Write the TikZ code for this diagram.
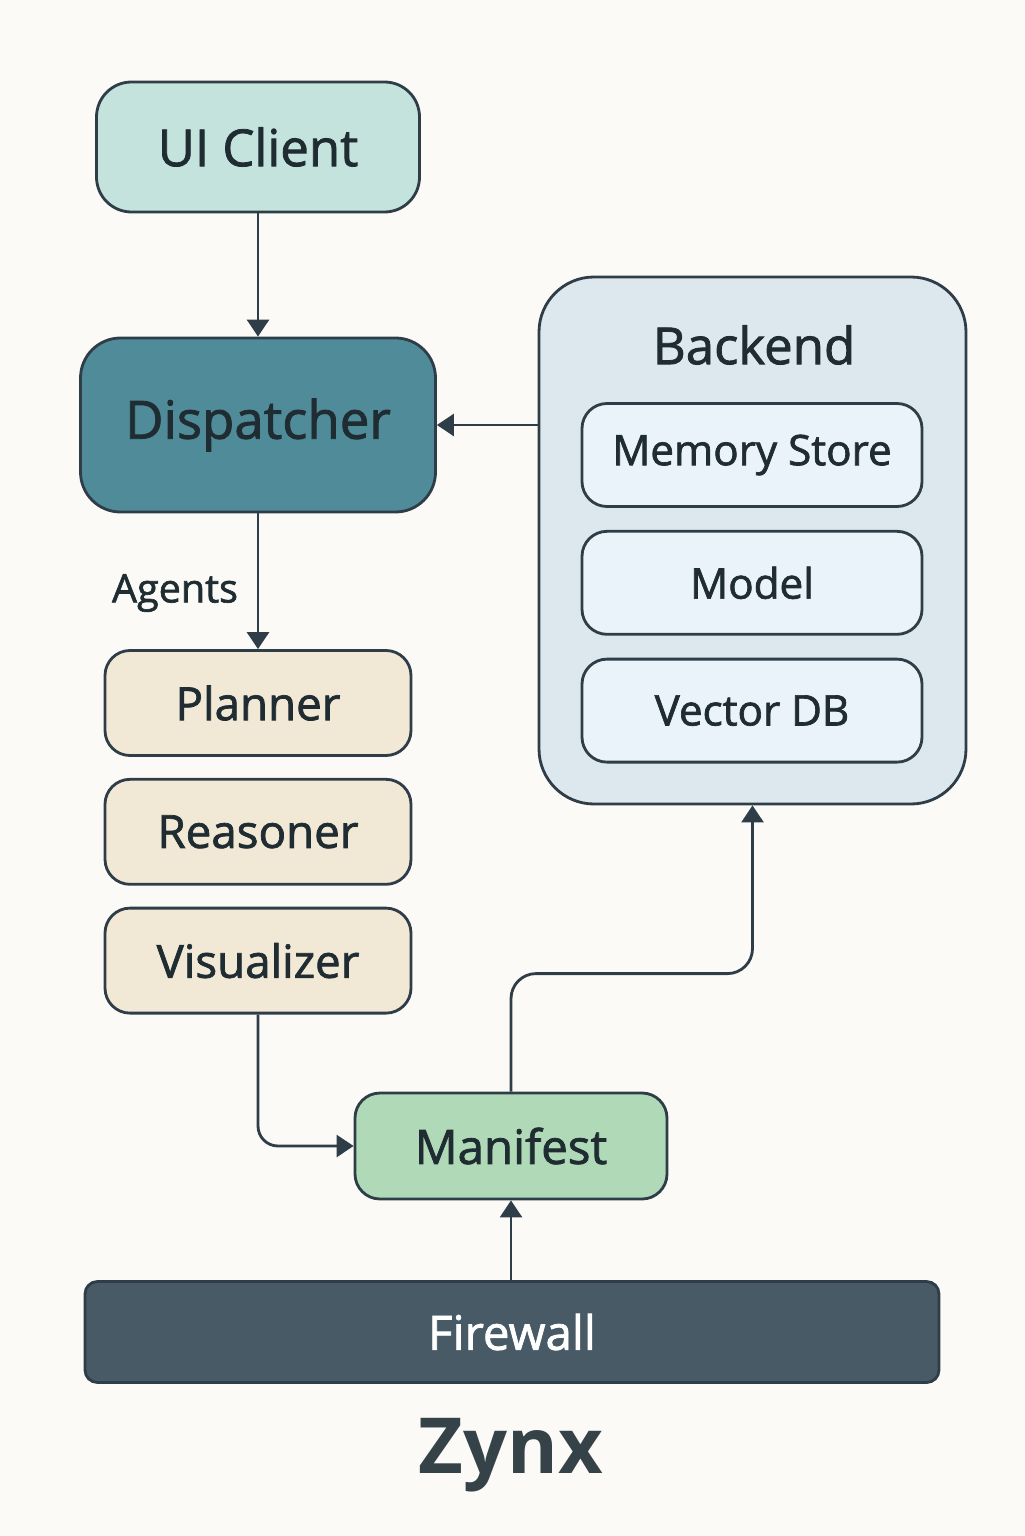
\documentclass[tikz,border=0pt]{standalone}
\usepackage{fontspec}
\setmainfont{Open Sans}
\newfontfamily\medfont{Open Sans}[FakeBold=1.6]
\usetikzlibrary{positioning,arrows.meta}
\definecolor{bgcol}{HTML}{FCFAF6}
\definecolor{linecol}{HTML}{2E3D47}
\definecolor{textcol}{HTML}{1F2D33}
\definecolor{clientcol}{HTML}{C4E3DD}
\definecolor{dispcol}{HTML}{4F8B99}
\definecolor{agentcol}{HTML}{F2E8D6}
\definecolor{manicol}{HTML}{B0D9B8}
\definecolor{firecol}{HTML}{475A66}
\definecolor{backcol}{HTML}{DCE8EE}
\definecolor{storecol}{HTML}{EAF3F9}
\begin{document}
\begin{tikzpicture}[
    box/.style={draw=linecol, line width=1.6pt, rounded corners=0.5cm, text=textcol, align=center},
    agentbox/.style={box, fill=agentcol, minimum width=6.12cm, minimum height=2.1cm, font=\medfont\fontsize{26}{30}\selectfont},
    storebox/.style={box, fill=storecol, minimum width=6.8cm, minimum height=2.06cm, font=\medfont\fontsize{24}{28}\selectfont},
    arrow/.style={draw=linecol, line width=1.6pt, -{Triangle[length=0.34cm, width=0.44cm]}}
]
\fill[bgcol] (0,0) rectangle (20.48,-30.72);
\useasboundingbox (0,0) rectangle (20.48,-30.72);

\node[box, fill=clientcol, rounded corners=0.7cm, minimum width=6.46cm, minimum height=2.6cm, font=\medfont\fontsize{29}{34}\selectfont] (client) at (5.16,-2.94) {UI Client};
\node[box, fill=dispcol, rounded corners=0.8cm, minimum width=7.1cm, minimum height=3.48cm, font=\medfont\fontsize{30}{35}\selectfont] (dispatcher) at (5.16,-8.5) {Dispatcher};

\node[agentbox] (planner) at (5.16,-14.06) {Planner};
\node[agentbox, below=0.42cm of planner] (reasoner) {Reasoner};
\node[agentbox, below=0.42cm of reasoner] (visualizer) {Visualizer};
\node[text=textcol, font=\medfont\fontsize{22.5}{27}\selectfont] (agents) at (3.5,-11.86) {Agents};

\node[box, fill=backcol, rounded corners=1.1cm, minimum width=8.54cm, minimum height=10.54cm] (backend) at (15.05,-10.81) {};
\node[text=textcol, font=\medfont\fontsize{29}{34}\selectfont] (backendlabel) at (15.08,-6.9) {Backend};
\node[storebox] (memory) at (15.04,-9.1) {Memory Store};
\node[storebox, below=0.44cm of memory] (model) {Model};
\node[storebox, below=0.44cm of model] (vectordb) {Vector DB};

\node[box, fill=manicol, minimum width=6.24cm, minimum height=2.12cm, font=\medfont\fontsize{27}{32}\selectfont] (manifest) at (10.22,-22.92) {Manifest};
\node[box, fill=firecol, rounded corners=0.25cm, minimum width=17.08cm, minimum height=2.02cm, text=white, font=\medfont\fontsize{27}{32}\selectfont] (firewall) at (10.24,-26.64) {Firewall};
\node[text=textcol!90!white, font=\fontsize{44}{50}\selectfont\bfseries] (title) at (10.22,-29.1) {Zynx};

\draw[arrow] (client) -- (dispatcher);
\draw[arrow] (dispatcher.east -| backend.west) -- (dispatcher.east);
\draw[arrow] (dispatcher) -- (planner);
\draw[arrow, rounded corners=0.4cm] (visualizer.south) |- (manifest.west);
\draw[arrow, rounded corners=0.5cm] (manifest.north) -- ++(0,2.36) -| (backend.south);
\draw[arrow] (firewall.north -| manifest) -- (manifest.south);
\end{tikzpicture}
\end{document}
